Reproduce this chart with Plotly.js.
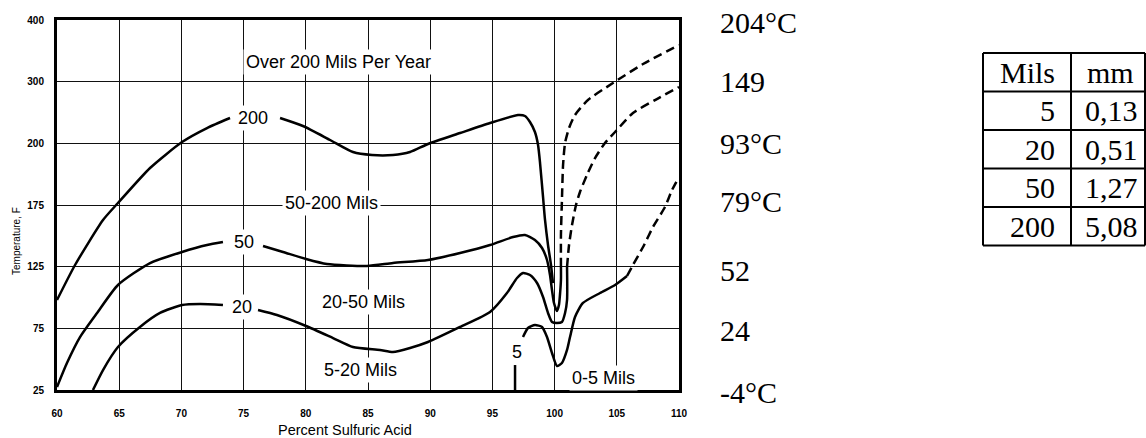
<!DOCTYPE html>
<html><head><meta charset="utf-8">
<script src="https://cdn.plot.ly/plotly-3.0.1.min.js"></script>
<style>html,body{margin:0;padding:0;background:#fff}#chart{width:1146px;height:438px}</style>
</head><body><div id="chart"></div>
<script>
// ---------- data ----------
const xTickVals = [60, 65, 70, 75, 80, 85, 90, 95, 100, 105, 110];
const xTickText = ['60', '65', '70', '75', '80', '85', '90', '95', '100', '105', '110'];
// the temperature axis is drawn with equally spaced (non-linear) labels: values are in grid steps
const yTickVals = [0, 1, 2, 3, 4, 5, 6];
const yTickText = ['25', '75', '125', '175', '200', '300', '400'];

const c200X = [60.00, 61.45, 63.70, 64.90, 67.48, 70.05, 72.06, 73.91, null, 77.93, 79.77, 81.95, 83.79, 85.32, 87.01, 88.38, 89.82, 92.40, 94.81, 97.06, 97.62, 98.02, 98.42, 98.67, 98.83, 99.07, 99.23, 99.47, 99.71, 99.87];
const c200Y = [1.459, 2.027, 2.757, 3.032, 3.600, 4.021, 4.248, 4.411, null, 4.411, 4.281, 4.054, 3.859, 3.811, 3.811, 3.859, 3.989, 4.167, 4.330, 4.459, 4.443, 4.346, 4.184, 3.973, 3.681, 3.130, 2.757, 2.351, 2.027, 1.735];

const c50X = [60.00, 60.80, 61.85, 63.22, 64.90, 67.48, 70.05, 72.06, 73.34, null, 76.56, 78.17, 80.02, 81.70, 84.92, 87.01, 89.82, 92.40, 94.81, 96.66, 97.62, 98.42, 98.99, 99.39, 99.63, 99.79, 99.95, 100.19, 100.35, 100.43, 100.51, 100.51];
const c50Y = [0.049, 0.438, 0.859, 1.249, 1.703, 2.059, 2.238, 2.351, 2.400, null, 2.335, 2.238, 2.124, 2.043, 2.011, 2.059, 2.108, 2.222, 2.351, 2.481, 2.513, 2.432, 2.303, 2.108, 1.865, 1.622, 1.411, 1.281, 1.378, 1.540, 1.784, 1.995];
const c50DashX = [100.51, 100.51, 100.59, 100.68, 100.84, 101.16, 101.64, 102.68, 104.69, 107.11, 110.00];
const c50DashY = [1.995, 2.513, 3.081, 3.649, 4.005, 4.248, 4.459, 4.702, 4.978, 5.286, 5.594];

const c20X = [62.89, 63.70, 64.90, 66.67, 68.28, 70.05, 71.50, 73.34, null, 76.16, 77.68, 80.02, 82.19, 83.79, 85.96, 87.01, 88.38, 89.82, 92.40, 94.81, 96.17, 96.98, 97.46, 98.02, 98.59, 99.07, 99.47, 99.79, 100.19, 100.59, 100.84, 101.00, 101.00];
const c20Y = [0.000, 0.324, 0.697, 1.022, 1.249, 1.378, 1.395, 1.378, null, 1.297, 1.216, 1.038, 0.843, 0.697, 0.649, 0.616, 0.681, 0.778, 1.022, 1.265, 1.573, 1.816, 1.897, 1.865, 1.735, 1.508, 1.249, 1.103, 1.086, 1.103, 1.249, 1.459, 1.995];
const c20DashX = [101.00, 101.16, 101.40, 101.72, 102.04, 102.60, 103.25, 104.05, 104.86, 106.30, 108.07, 110.00];
const c20DashY = [1.995, 2.351, 2.676, 3.000, 3.211, 3.486, 3.762, 4.005, 4.184, 4.492, 4.702, 4.913];

const c5X = [96.82, 96.82, null, 97.46, 97.86, 98.42, 98.99, 99.39, 99.79, 100.19, 100.59, 101.00, 101.24, 101.64, 102.28, 103.65, 104.86, 105.82];
const c5Y = [0.000, 0.405, null, 0.859, 1.005, 1.054, 1.022, 0.859, 0.600, 0.389, 0.438, 0.649, 0.859, 1.184, 1.411, 1.573, 1.703, 1.849];
const c5DashX = [105.82, 106.30, 107.11, 107.91, 108.87, 109.44, 110.00];
const c5DashY = [1.849, 2.027, 2.319, 2.643, 2.967, 3.243, 3.454];

const regionLabels = ['Over 200 Mils Per Year', '200', '50-200 Mils', '50', '20', '20-50 Mils', '5-20 Mils', '5', '0-5 Mils'];
const celsiusLabels = ['204°C', '149', '93°C', '79°C', '52', '24', '-4°C'];
const tableHeader = ['Mils', 'mm'];
const tableMils = ['5', '20', '50', '200'];
const tableMm = ['0,13', '0,51', '1,27', '5,08'];

// ---------- layout helpers ----------
const W = 1146, H = 438;
const px = v => v / W;          // pixel -> paper x
const py = v => 1 - v / H;      // pixel -> paper y
const sans = 'Liberation Sans, Arial, sans-serif';
const serif = 'Liberation Serif, Times New Roman, serif';

function solid(x, y) {
  return {x: x, y: y, type: 'scatter', mode: 'lines', connectgaps: false, hoverinfo: 'skip',
    line: {color: '#000', width: 2.5, shape: 'spline', smoothing: 0.6}};
}
function dashed(x, y) {
  return {x: x, y: y, type: 'scatter', mode: 'lines', hoverinfo: 'skip',
    line: {color: '#000', width: 2.5, shape: 'spline', smoothing: 0.6, dash: '9px,5px'}};
}
const traces = [
  solid(c200X, c200Y), solid(c50X, c50Y), dashed(c50DashX, c50DashY),
  solid(c20X, c20Y), dashed(c20DashX, c20DashY), solid(c5X, c5Y), dashed(c5DashX, c5DashY)
];

function note(x, y, text, font, extra) {
  return Object.assign({x: x, y: y, xref: 'paper', yref: 'paper', xanchor: 'center', yanchor: 'middle',
    text: text, showarrow: false, font: font}, extra || {});
}

// positions of region labels (data coords)
const regionPos = [[82.59, 5.319], [75.76, 4.411], [82.03, 3.032], [75.03, 2.40], [74.87, 1.346], [84.60, 1.427], [84.36, 0.324], [96.98, 0.616], [103.97, 0.195]];
const annotations = [];
regionLabels.forEach((t, i) => {
  annotations.push({x: regionPos[i][0], y: regionPos[i][1], xref: 'x', yref: 'y', xanchor: 'center', yanchor: 'middle',
    text: t, showarrow: false, font: {family: sans, size: 18, color: '#000'}, bgcolor: '#fff', borderpad: 2});
});
// axis titles
annotations.push(note(px(345), py(430), 'Percent Sulfuric Acid', {family: sans, size: 14.5, color: '#000'}));
annotations.push(note(px(16), py(241), 'Temperature, F', {family: sans, size: 10, color: '#000'}, {textangle: -90}));
// Celsius labels
const celsiusY = [22, 82, 143, 202, 270, 330, 392];
const serifFont = {family: serif, size: 30, color: '#000'};
celsiusLabels.forEach((t, i) => {
  annotations.push(note(px(718), py(celsiusY[i]), t, serifFont, {xanchor: 'left'}));
});
// table
const tL = 983, tM = 1071, tR = 1145, tT = 53, rowH = 38.5;
const shapes = [];
const lineStyle = {color: '#000', width: 2};
for (let r = 0; r <= tableMils.length + 1; r++) {
  shapes.push({type: 'line', xref: 'paper', yref: 'paper', x0: px(tL), x1: px(tR), y0: py(tT + r * rowH), y1: py(tT + r * rowH), line: lineStyle});
}
[tL, tM, tR].forEach(xv => {
  shapes.push({type: 'line', xref: 'paper', yref: 'paper', x0: px(xv), x1: px(xv), y0: py(tT), y1: py(tT + (tableMils.length + 1) * rowH), line: lineStyle});
});
annotations.push(note(px((tL + tM) / 2), py(tT + rowH / 2), tableHeader[0], serifFont));
annotations.push(note(px((tM + tR) / 2 + 2), py(tT + rowH / 2), tableHeader[1], serifFont));
tableMils.forEach((t, i) => {
  const yc = tT + rowH * (i + 1.5);
  annotations.push(note(px(1057), py(yc), t, serifFont, {xanchor: 'right'}));
  annotations.push(note(px(1083), py(yc), tableMm[i], serifFont, {xanchor: 'left'}));
});

const layout = {
  width: W, height: H, autosize: false,
  margin: {l: 0, r: 0, t: 0, b: 0, pad: 0},
  paper_bgcolor: '#fff', plot_bgcolor: '#fff', showlegend: false,
  xaxis: {domain: [px(57), px(679)], range: [60, 110], tickmode: 'array', tickvals: xTickVals, ticktext: xTickText,
    showgrid: true, gridcolor: '#111', gridwidth: 1, zeroline: false, showline: true, mirror: true, linecolor: '#000', linewidth: 3,
    ticks: '', ticklabelstandoff: 12, tickfont: {family: sans, size: 10, color: '#000', weight: 'bold'}, fixedrange: true},
  yaxis: {domain: [py(390), py(20)], range: [0, 6], tickmode: 'array', tickvals: yTickVals, ticktext: yTickText,
    showgrid: true, gridcolor: '#111', gridwidth: 1, zeroline: false, showline: true, mirror: true, linecolor: '#000', linewidth: 3,
    ticks: '', ticklabelstandoff: 8, tickfont: {family: sans, size: 10, color: '#000', weight: 'bold'}, fixedrange: true},
  annotations: annotations,
  shapes: shapes
};
Plotly.newPlot('chart', traces, layout, {staticPlot: true, displayModeBar: false});
</script>
</body></html>
